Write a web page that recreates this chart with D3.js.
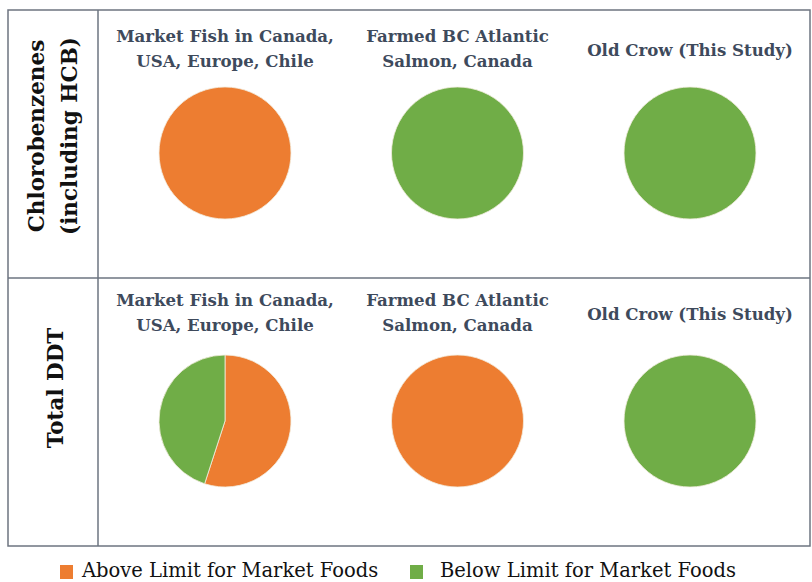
<!DOCTYPE html>
<html lang="en">

<head>
  <meta charset="UTF-8">
  <script src="https://d3js.org/d3.v7.min.js"></script>
  <style>
    body { margin: 0; background: white; }
  </style>
</head>

<body>
  <svg id="chart" width="812" height="582"></svg>

  <script>
    // data
    const rowLabels = [["Chlorobenzenes", "(including HCB)"], ["Total DDT"]];
    const columnLabels = [
      ["Market Fish in Canada,", "USA, Europe, Chile"],
      ["Farmed BC Atlantic", "Salmon, Canada"],
      ["Old Crow (This Study)"]
    ];
    const seriesNames = ["Above Limit for Market Foods", "Below Limit for Market Foods"];
    // percent of samples, one entry per column
    const aboveLimit = [[100, 0, 0], [55, 100, 0]];
    const belowLimit = [[0, 100, 100], [45, 0, 100]];

    const serif = "DejaVu Serif";
    const svg = d3.select("#chart").attr("font-family", serif);
    const box = { left: 8, right: 810, top: 10, bottom: 546, labelCol: 98 };

    const color = d3.scaleOrdinal().domain(seriesNames).range(["#ED7D31", "#70AD47"]);
    const x = d3.scalePoint().domain(d3.range(columnLabels.length)).range([225, 690]);
    const y = d3.scaleBand().domain(d3.range(rowLabels.length)).range([box.top, box.bottom]);

    // grid
    const grid = svg.append("g").attr("fill", "none").attr("stroke", "#6d7480").attr("stroke-width", 1.5);
    grid.append("rect")
      .attr("x", box.left).attr("y", box.top)
      .attr("width", box.right - box.left).attr("height", box.bottom - box.top);
    grid.append("line")
      .attr("x1", box.labelCol).attr("x2", box.labelCol)
      .attr("y1", box.top).attr("y2", box.bottom);
    grid.selectAll("line.row").data(d3.range(1, rowLabels.length))
      .join("line")
      .attr("class", "row")
      .attr("x1", box.left).attr("x2", box.right)
      .attr("y1", d => y(d)).attr("y2", d => y(d));

    const pie = d3.pie().sort(null).value(d => d.value);
    const arc = d3.arc().innerRadius(0).outerRadius(66);

    rowLabels.forEach((lines, r) => {
      const rowTop = y(r);
      const rowMid = rowTop + y.bandwidth() / 2 - (lines.length > 1 ? 8 : 24);

      // rotated row label
      const lab = svg.append("text")
        .attr("transform", "translate(" + ((box.left + box.labelCol) / 2) + "," + rowMid + ") rotate(-90)")
        .attr("text-anchor", "middle")
        .attr("font-weight", "bold")
        .attr("font-size", 21.5)
        .attr("fill", "#111");
      lines.forEach((t, i) => {
        lab.append("tspan")
          .attr("x", 0)
          .attr("dy", i === 0 ? (lines.length > 1 ? -9 : 10) : 33)
          .text(t);
      });

      columnLabels.forEach((titleLines, c) => {
        const cx = x(c);
        const title = svg.append("text")
          .attr("text-anchor", "middle")
          .attr("font-weight", "bold")
          .attr("font-size", 16.6)
          .attr("fill", "#3e4a5c");
        const firstY = rowTop + (titleLines.length > 1 ? 32 : 46) - r * 4;
        titleLines.forEach((t, i) => {
          title.append("tspan")
            .attr("x", cx)
            .attr("y", firstY + i * 25)
            .text(t);
        });

        const slices = [
          { name: seriesNames[0], value: aboveLimit[r][c] },
          { name: seriesNames[1], value: belowLimit[r][c] }
        ];
        svg.append("g")
          .attr("transform", "translate(" + cx + "," + (rowTop + 143) + ")")
          .selectAll("path")
          .data(pie(slices).filter(d => d.value > 0))
          .join("path")
          .attr("d", arc)
          .attr("fill", d => color(d.data.name))
          .attr("stroke", "#f3eee0")
          .attr("stroke-width", 0.8);
      });
    });

    // legend
    const legend = svg.append("g");
    const legendX = [60, 410];
    seriesNames.forEach((name, i) => {
      legend.append("rect")
        .attr("x", legendX[i]).attr("y", 565)
        .attr("width", 13).attr("height", 14)
        .attr("fill", color(name));
      legend.append("text")
        .attr("x", legendX[i] + (i === 0 ? 22 : 30))
        .attr("y", 577)
        .attr("font-size", 19.5)
        .attr("fill", "#111")
        .text(name);
    });
  </script>
</body>

</html>
